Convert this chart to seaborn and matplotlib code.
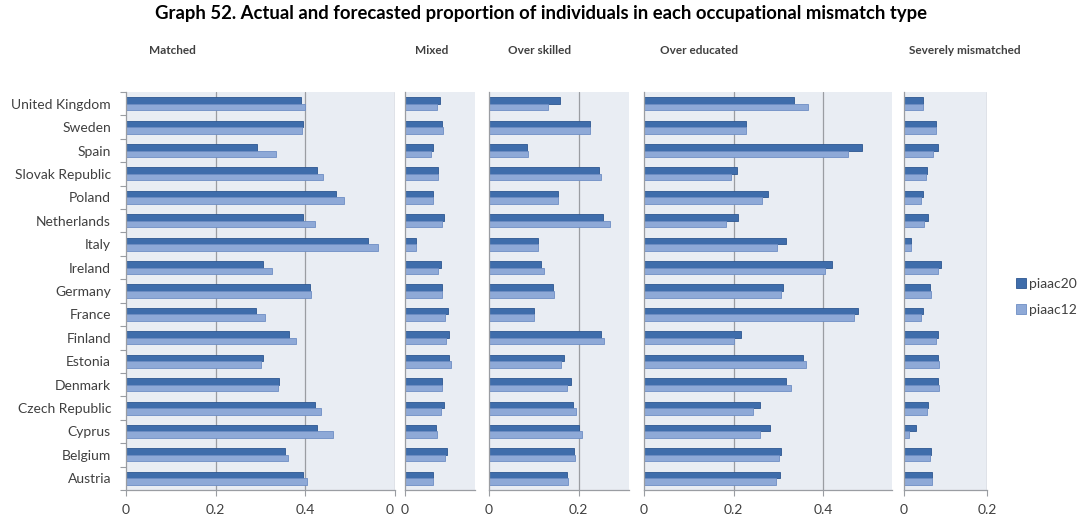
import numpy as np
import pandas as pd
import matplotlib
matplotlib.use("Agg")
import matplotlib.pyplot as plt
from matplotlib.patches import Patch
from matplotlib.transforms import Bbox, TransformedBbox
import seaborn as sns

# Countries, top to bottom
countries = ["United Kingdom", "Sweden", "Spain", "Slovak Republic", "Poland",
             "Netherlands", "Italy", "Ireland", "Germany", "France", "Finland",
             "Estonia", "Denmark", "Czech Republic", "Cyprus", "Belgium", "Austria"]
surveys = ["piaac20", "piaac12"]

matched_20 = [0.390, 0.395, 0.292, 0.425, 0.468, 0.395, 0.539, 0.305, 0.410,
              0.291, 0.364, 0.306, 0.342, 0.421, 0.425, 0.354, 0.395]
matched_12 = [0.399, 0.393, 0.334, 0.439, 0.486, 0.422, 0.561, 0.326, 0.413,
              0.309, 0.380, 0.301, 0.338, 0.436, 0.462, 0.361, 0.404]

mixed_20 = [0.078, 0.083, 0.062, 0.074, 0.062, 0.088, 0.025, 0.080, 0.083,
            0.096, 0.097, 0.099, 0.083, 0.087, 0.068, 0.093, 0.062]
mixed_12 = [0.071, 0.085, 0.059, 0.074, 0.062, 0.083, 0.025, 0.074, 0.083,
            0.090, 0.092, 0.102, 0.083, 0.080, 0.071, 0.090, 0.062]

overskilled_20 = [0.159, 0.225, 0.084, 0.246, 0.155, 0.255, 0.109, 0.117, 0.142,
                  0.100, 0.250, 0.167, 0.183, 0.187, 0.201, 0.189, 0.174]
overskilled_12 = [0.131, 0.225, 0.088, 0.249, 0.155, 0.271, 0.109, 0.122, 0.146,
                  0.100, 0.256, 0.161, 0.174, 0.194, 0.207, 0.192, 0.177]

overeducated_20 = [0.335, 0.228, 0.487, 0.207, 0.278, 0.211, 0.317, 0.419, 0.310,
                   0.477, 0.216, 0.356, 0.317, 0.259, 0.281, 0.307, 0.304]
overeducated_12 = [0.366, 0.228, 0.456, 0.195, 0.263, 0.183, 0.298, 0.405, 0.305,
                   0.468, 0.200, 0.362, 0.329, 0.244, 0.259, 0.302, 0.295]

severe_20 = [0.046, 0.076, 0.082, 0.055, 0.046, 0.058, 0.018, 0.088, 0.063,
             0.046, 0.082, 0.083, 0.083, 0.058, 0.030, 0.066, 0.068]
severe_12 = [0.046, 0.078, 0.071, 0.052, 0.042, 0.048, 0.018, 0.082, 0.064,
             0.041, 0.078, 0.084, 0.084, 0.055, 0.012, 0.062, 0.067]

title = ("Graph 52. Actual and forecasted proportion of individuals "
         "in each occupational mismatch type")

sns.set_theme(style="white")
plt.rcParams['font.family'] = ['Lato', 'DejaVu Sans']

W, H = 1080, 515
fig = plt.figure(figsize=(W / 100, H / 100), dpi=100)
fig.patch.set_facecolor("white")

DARK, LIGHT = "#3f6dab", "#8ea9d7"
DARK_EDGE, LIGHT_EDGE = "#2d5690", "#6e8ec4"
BG = "#e9edf3"
GRID = "#9a9da2"
TXT = "#404040"
PLOT_TOP, PLOT_BOTTOM = 92, 490

# name, piaac20, piaac12, left px, right px, x max, ticks, title centre px
panels = [
    ("Matched", matched_20, matched_12, 126, 395, 0.6, [0, 0.2, 0.4, 0.6], 172),
    ("Mixed", mixed_20, mixed_12, 405, 475, 0.156, [0], 432),
    ("Over skilled", overskilled_20, overskilled_12, 489, 629, 0.3125, [0, 0.2], 540),
    ("Over educated", overeducated_20, overeducated_12, 644, 892, 0.554, [0, 0.2, 0.4], 699),
    ("Severely mismatched", severe_20, severe_12, 904, 987, 0.2, [0, 0.2], 965),
]


def fmt(v):
    return "0" if v == 0 else f"{v:g}"


for i, (name, v20, v12, x0, x1, xmax, ticks, tx) in enumerate(panels):
    ax = fig.add_axes([x0 / W, 1 - PLOT_BOTTOM / H, (x1 - x0) / W,
                       (PLOT_BOTTOM - PLOT_TOP) / H])
    df = pd.DataFrame({
        "country": countries * 2,
        "survey": [surveys[0]] * len(countries) + [surveys[1]] * len(countries),
        "value": list(v20) + list(v12),
    })
    sns.barplot(data=df, x="value", y="country", hue="survey", hue_order=surveys,
                order=countries, orient="h", palette=[DARK, LIGHT], width=0.56,
                dodge=True, legend=False, ax=ax, errorbar=None, saturation=1)
    for c_idx, cont in enumerate(ax.containers):
        for bar in cont:
            bar.set_edgecolor(DARK_EDGE if c_idx == 0 else LIGHT_EDGE)
            bar.set_linewidth(0.6)

    ax.set_facecolor(BG)
    ax.set_xlim(0, xmax)
    ax.set_ylim(len(countries) - 0.5, -0.5)
    ax.set_xlabel("")
    ax.set_ylabel("")
    ax.set_xticks(ticks)
    ax.set_xticklabels([fmt(t) for t in ticks], fontsize=10, color=TXT)
    ax.grid(False)
    for t in ticks[1:]:
        ax.axvline(t, color=GRID, lw=0.9, zorder=0.5)
    for s in ["top", "right"]:
        ax.spines[s].set_visible(False)
    for s in ["left", "bottom"]:
        ax.spines[s].set_color(GRID)
        ax.spines[s].set_linewidth(0.9)
    ax.tick_params(axis="x", which="major", length=4, width=0.8, color=GRID,
                   pad=6, bottom=True)

    if i == 0:
        ax.set_yticks(range(len(countries)))
        ax.set_yticklabels(countries, fontsize=10, color=TXT)
        ax.tick_params(axis="y", which="major", length=0, pad=10.8)
        ax.set_yticks(np.arange(len(countries) + 1) - 0.5, minor=True)
        ax.tick_params(axis="y", which="minor", length=4, width=0.8,
                       color=GRID, left=True)
        # the last label is cut off where the next panel begins
        clip = TransformedBbox(Bbox.from_extents(0, 0, 394 / W, 1), fig.transFigure)
        lab = ax.xaxis.get_major_ticks()[-1].label1
        lab.set_clip_box(clip)
        lab.set_clip_on(True)
    else:
        ax.set_yticks([])

    fig.text(tx / W, 1 - 50 / H, name, ha="center", va="center",
             fontsize=8.5, fontweight="bold", color=TXT)

fig.text(541 / W, 1 - 13 / H, title, ha="center", va="center",
         fontsize=13.3, fontweight="bold", color="black")

handles = [Patch(facecolor=DARK, edgecolor=DARK_EDGE, lw=0.6, label=surveys[0]),
           Patch(facecolor=LIGHT, edgecolor=LIGHT_EDGE, lw=0.6, label=surveys[1])]
fig.legend(handles=handles, loc="center left",
           bbox_to_anchor=(1016 / W, 1 - 297 / H), frameon=False,
           borderpad=0, borderaxespad=0,
           fontsize=10, handlelength=0.7, handleheight=0.7,
           handletextpad=0.25, labelspacing=1.0, labelcolor=TXT)

fig.savefig("out.png", dpi=100, facecolor="white")
